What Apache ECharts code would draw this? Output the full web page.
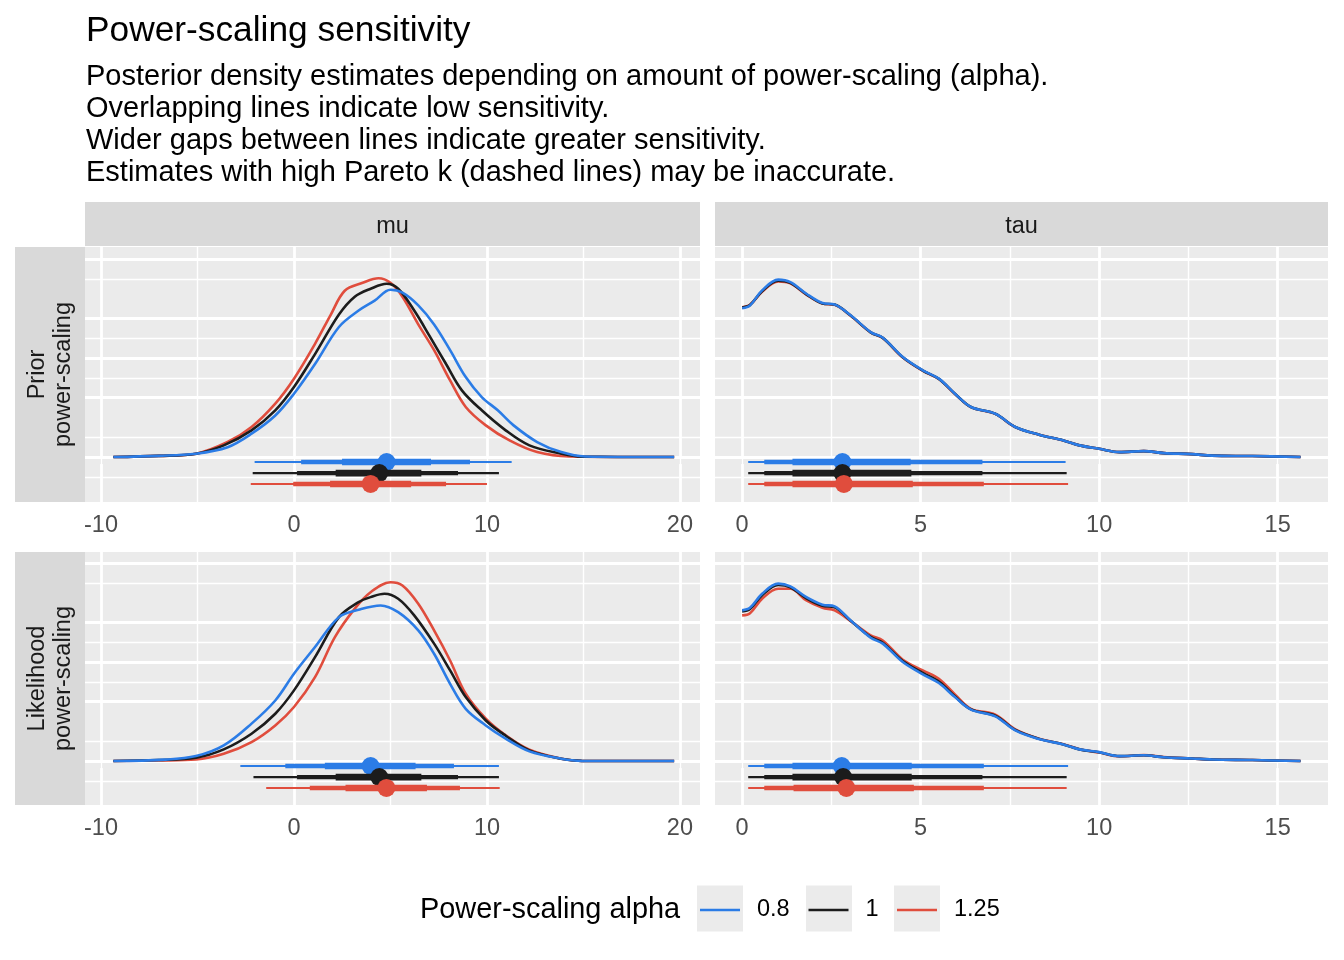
<!DOCTYPE html>
<html lang="en">
<head>
<meta charset="UTF-8">
<title>Power-scaling sensitivity</title>
<script src="https://cdn.jsdelivr.net/npm/echarts@6.0.0/dist/echarts.min.js"></script>
<style>
  html, body { margin: 0; padding: 0; background: #fff; }
  #chart { width: 1344px; height: 960px; }
</style>
</head>
<body>
<div id="chart"></div>
<script>
var alphas = ['0.8', '1', '1.25'];
var alphaColors = ['#2b7ce6', '#1c1c1c', '#e04d3d'];

var variables = ['mu', 'tau'];
var scalings = ['Prior\npower-scaling', 'Likelihood\npower-scaling'];

// x ticks / grid breaks
var muMajor = [-10, 0, 10, 20];
var muMinor = [-5, 5, 15];
var tauMajor = [0, 5, 10, 15];
var tauMinor = [2.5, 7.5, 12.5];
var densMajor = [0, 0.025, 0.05, 0.075, 0.1];
var densMinor = [-0.0125, 0.0125, 0.0375, 0.0625, 0.0875];

// density estimates, [x, density]
var priorMuDens08 = [[-9.36,0],[-7,0.0006],[-5.08,0.0017],[-3.44,0.005],[-2.2,0.0118],[-0.97,0.021],[0,0.032],[1.09,0.047],[2.33,0.0657],[3.35,0.074],[4.18,0.079],[5.0,0.0845],[5.62,0.083],[6.44,0.0766],[7.26,0.067],[8.09,0.054],[8.9,0.0404],[9.73,0.0303],[10.56,0.0236],[11.38,0.016],[12.6,0.0076],[13.85,0.0025],[15.08,0.0003],[19.7,0]];
var priorMuDens1 = [[-9.36,0],[-7,0.0006],[-5.08,0.0017],[-3.64,0.0059],[-2.2,0.0135],[-0.97,0.0236],[0,0.0354],[1.09,0.052],[2.33,0.072],[3.15,0.081],[3.97,0.085],[4.8,0.0875],[5.4,0.085],[6.23,0.074],[7.06,0.0606],[7.88,0.047],[8.7,0.0337],[9.73,0.0236],[10.97,0.0135],[12.2,0.0059],[13.85,0.0017],[14.9,0.0002],[19.7,0]];
var priorMuDens125 = [[-9.36,0],[-7,0.0006],[-5.08,0.0017],[-3.44,0.0076],[-2.2,0.0152],[-0.97,0.027],[0,0.0396],[1.09,0.0572],[1.91,0.072],[2.63,0.084],[3.56,0.088],[4.38,0.0903],[5.0,0.088],[5.62,0.081],[6.44,0.067],[7.26,0.054],[8.09,0.0387],[8.9,0.0253],[9.94,0.016],[11.17,0.0084],[12.6,0.0025],[14.26,0.0003],[19.7,0]];

var likMuDens08 = [[-9.36,0],[-6.73,0.0007],[-5.08,0.0025],[-3.64,0.0079],[-2.2,0.0189],[-0.97,0.0306],[0,0.0441],[1.09,0.0576],[2.33,0.0727],[3.35,0.0764],[4.49,0.0786],[5.4,0.0752],[6.44,0.066],[7.26,0.0542],[8.09,0.039],[8.9,0.0264],[9.94,0.018],[10.97,0.0113],[12.2,0.0049],[13.85,0.0012],[14.9,0.0001],[19.7,0]];
var likMuDens1 = [[-9.36,0],[-7,0.0005],[-5.08,0.0017],[-3.64,0.0059],[-2.2,0.0138],[-0.97,0.0239],[0,0.0357],[1.09,0.0525],[2.33,0.0727],[3.35,0.0803],[3.97,0.0828],[4.69,0.0845],[5.4,0.082],[6.23,0.0736],[7.26,0.0593],[8.09,0.0458],[8.9,0.0323],[9.94,0.0205],[10.97,0.0128],[12.2,0.0054],[13.85,0.0012],[14.9,0.0001],[19.7,0]];
var likMuDens125 = [[-9.36,0],[-7,0.0003],[-5.08,0.0008],[-3.64,0.0037],[-2.2,0.0096],[-0.97,0.018],[0,0.0273],[1.09,0.0424],[2.12,0.0626],[3.15,0.077],[3.97,0.0853],[5.0,0.0903],[5.62,0.0887],[6.44,0.0795],[7.26,0.066],[8.09,0.0508],[8.9,0.034],[9.94,0.0214],[10.97,0.013],[12.2,0.0057],[13.85,0.0012],[14.9,0.0001],[19.7,0]];

var tauX = [0,0.22,0.56,1.01,1.35,1.8,2.25,2.59,3.04,3.6,3.94,4.5,5.06,5.51,5.96,6.41,7.09,7.65,8.32,9.0,9.45,10.0,10.57,11.25,11.81,12.6,13.16,14.29,15.64];
var priorTauDens08 = [0.0752,0.0766,0.0842,0.0896,0.0884,0.0825,0.0778,0.0771,0.0716,0.0631,0.0603,0.0505,0.0438,0.0396,0.032,0.0253,0.0219,0.0152,0.0113,0.0084,0.0059,0.0042,0.0025,0.003,0.002,0.0015,0.0007,0.0005,0];
var priorTauDens1 = [0.0755,0.0768,0.0838,0.0891,0.088,0.0822,0.0776,0.077,0.0715,0.063,0.0602,0.0504,0.0437,0.0395,0.032,0.0253,0.0219,0.0152,0.0113,0.0084,0.0059,0.0042,0.0025,0.003,0.002,0.0015,0.0007,0.0005,0];
var priorTauDens125 = [0.0757,0.0769,0.0835,0.0887,0.0877,0.082,0.0775,0.0769,0.0714,0.063,0.0601,0.0503,0.0436,0.0394,0.0319,0.0252,0.0218,0.0151,0.0113,0.0084,0.0059,0.0042,0.0025,0.003,0.002,0.0015,0.0007,0.0005,0];
var likTauDens08 = [0.0761,0.0774,0.0845,0.0896,0.0882,0.0828,0.079,0.0781,0.071,0.0623,0.0593,0.05,0.0438,0.0394,0.0323,0.026,0.0226,0.0155,0.0111,0.0084,0.0059,0.0045,0.0025,0.0029,0.0019,0.0013,0.0008,0.0005,0];
var likTauDens1 = [0.0756,0.0768,0.0838,0.089,0.0878,0.0822,0.0784,0.0776,0.0709,0.0627,0.0598,0.0505,0.0445,0.0402,0.0327,0.0261,0.0229,0.0157,0.0112,0.0084,0.0059,0.0044,0.0025,0.0029,0.0019,0.0013,0.0008,0.0005,0];
var likTauDens125 = [0.0736,0.0747,0.082,0.087,0.087,0.0811,0.0774,0.0761,0.0707,0.0635,0.0609,0.0512,0.0458,0.0416,0.0337,0.0264,0.0234,0.016,0.0113,0.0085,0.006,0.0043,0.0024,0.003,0.002,0.0013,0.0008,0.0005,0];

// point intervals per alpha: [thinLo, medLo, thickLo, median, thickHi, medHi, thinHi]
var priorMuIntervals = [[-2.04,0.37,2.49,4.8,7.1,9.12,11.28],[-2.14,0.16,2.16,4.42,6.6,8.5,10.62],[-2.24,-0.04,1.87,3.97,6.07,7.88,10.0]];
var priorTauIntervals = [[0.17,0.62,1.41,2.81,4.72,6.73,9.06],[0.17,0.62,1.41,2.81,4.74,6.73,9.09],[0.17,0.62,1.41,2.85,4.78,6.77,9.13]];
var likMuIntervals = [[-2.78,-0.45,1.6,3.97,6.3,8.29,10.62],[-2.1,0.16,2.16,4.42,6.6,8.5,10.62],[-1.44,0.82,2.67,4.79,6.89,8.6,10.66]];
var likTauIntervals = [[0.17,0.62,1.41,2.79,4.75,6.77,9.13],[0.17,0.62,1.41,2.83,4.75,6.73,9.09],[0.17,0.62,1.44,2.92,4.81,6.77,9.09]];

var subtitleLines = [
    'Posterior density estimates depending on amount of power-scaling (alpha).',
    'Overlapping lines indicate low sensitivity.',
    'Wider gaps between lines indicate greater sensitivity.',
    'Estimates with high Pareto k (dashed lines) may be inaccurate.'
];

function pairs(xs, ys) {
    return xs.map(function (x, i) { return [x, ys[i]]; });
}

var FONT = 'Liberation Sans, Arial, sans-serif';

// panel layout (pixels)
var colLeft = [85, 715], colWidth = [615, 613];
var rowTop = [247, 552], rowHeight = [255, 253];
var rowYRange = [[-0.0227, 0.1061], [-0.0222, 0.1056]];
var intervalOffsets = [-0.0025, -0.0081, -0.0136];

var panels = [
    {row: 0, col: 0, dens: [priorMuDens08, priorMuDens1, priorMuDens125], ints: priorMuIntervals},
    {row: 0, col: 1, dens: [pairs(tauX, priorTauDens08), pairs(tauX, priorTauDens1), pairs(tauX, priorTauDens125)], ints: priorTauIntervals},
    {row: 1, col: 0, dens: [likMuDens08, likMuDens1, likMuDens125], ints: likMuIntervals},
    {row: 1, col: 1, dens: [pairs(tauX, likTauDens08), pairs(tauX, likTauDens1), pairs(tauX, likTauDens125)], ints: likTauIntervals}
];
var colX = [
    {min: -10.83, max: 21.04, major: muMajor, minor: muMinor},
    {min: -0.76, max: 16.41, major: tauMajor, minor: tauMinor}
];

var grids = [], xAxes = [], yAxes = [], series = [];

panels.forEach(function (p, g) {
    var cx = colX[p.col];
    grids.push({
        left: colLeft[p.col], top: rowTop[p.row],
        width: colWidth[p.col], height: rowHeight[p.row],
        show: true, backgroundColor: '#ebebeb', borderWidth: 0
    });
    xAxes.push({
        type: 'value', gridIndex: g, min: cx.min, max: cx.max,
        axisLine: {show: false},
        splitLine: {show: false},
        axisTick: {show: true, customValues: cx.major, length: 7, lineStyle: {color: '#333333', width: 2.6}},
        axisLabel: {show: true, customValues: cx.major, margin: 12, fontSize: 23.5, color: '#4d4d4d', fontFamily: FONT}
    });
    yAxes.push({
        type: 'value', gridIndex: g, min: rowYRange[p.row][0], max: rowYRange[p.row][1],
        show: false, splitLine: {show: false}
    });

    // panel grid lines, kept under the data
    var ml = [];
    cx.minor.forEach(function (v) { ml.push({xAxis: v, lineStyle: {width: 1.4}}); });
    cx.major.forEach(function (v) { ml.push({xAxis: v, lineStyle: {width: 2.8}}); });
    densMinor.forEach(function (v) { ml.push({yAxis: v, lineStyle: {width: 1.4}}); });
    densMajor.forEach(function (v) { ml.push({yAxis: v, lineStyle: {width: 2.8}}); });
    series.push({
        type: 'line', xAxisIndex: g, yAxisIndex: g, data: [], z: 1, silent: true,
        markLine: {
            z: 1, silent: true, symbol: 'none', animation: false, label: {show: false},
            lineStyle: {color: '#ffffff', type: 'solid'},
            emphasis: {disabled: true},
            data: ml
        }
    });

    // density lines (blue drawn last)
    [2, 1, 0].forEach(function (k) {
        series.push({
            name: alphas[k], type: 'line', xAxisIndex: g, yAxisIndex: g,
            data: p.dens[k], smooth: 0.35, symbol: 'none', z: 3,
            itemStyle: {color: alphaColors[k]},
            lineStyle: {color: alphaColors[k], width: 2.6}
        });
    });

    // point intervals
    p.ints.forEach(function (iv, k) {
        var yo = intervalOffsets[k];
        var segs = [[iv[0], iv[6], 2.2], [iv[1], iv[5], 4.3], [iv[2], iv[4], 6.6]];
        segs.forEach(function (s) {
            series.push({
                type: 'line', xAxisIndex: g, yAxisIndex: g, z: 4 + k * 2, silent: true,
                data: [[s[0], yo], [s[1], yo]], symbol: 'none',
                lineStyle: {color: alphaColors[k], width: s[2], cap: 'butt'}
            });
        });
        series.push({
            type: 'scatter', xAxisIndex: g, yAxisIndex: g, z: 5 + k * 2, silent: true,
            data: [[iv[3], yo]], symbolSize: 18,
            itemStyle: {color: alphaColors[k], opacity: 1}
        });
    });
});

var legendLeft = [700, 808.5, 897];
var legends = alphas.map(function (a, i) {
    return {
        data: [a], left: legendLeft[i], top: 898, padding: 0,
        icon: 'rect', itemWidth: 40, itemHeight: 2.5, selectedMode: false,
        textStyle: {fontSize: 23.5, color: '#000', fontFamily: FONT, padding: [0, 0, 0, 12]}
    };
});

var graphics = [];
// column strips
variables.forEach(function (v, c) {
    graphics.push({type: 'rect', silent: true, shape: {x: colLeft[c], y: 202, width: colWidth[c], height: 44}, style: {fill: '#d9d9d9'}});
    graphics.push({type: 'text', silent: true, x: colLeft[c] + colWidth[c] / 2, y: 227,
        style: {text: v, fontSize: 23.5, fontFamily: FONT, fill: '#1a1a1a', align: 'center', verticalAlign: 'middle'}});
});
// row strips
scalings.forEach(function (s, r) {
    graphics.push({type: 'rect', silent: true, shape: {x: 15, y: rowTop[r], width: 70, height: rowHeight[r]}, style: {fill: '#d9d9d9'}});
    graphics.push({type: 'text', silent: true, x: 51, y: rowTop[r] + rowHeight[r] / 2, rotation: Math.PI / 2,
        style: {text: s, fontSize: 23.5, lineHeight: 26, fontFamily: FONT, fill: '#1a1a1a', align: 'center', verticalAlign: 'middle'}});
});
// legend key backgrounds and title
[697, 806, 894].forEach(function (x) {
    graphics.push({type: 'rect', silent: true, z: -1, shape: {x: x, y: 885.5, width: 46, height: 46}, style: {fill: '#ebebeb'}});
});
graphics.push({type: 'text', silent: true, x: 420, y: 910,
    style: {text: 'Power-scaling alpha', fontSize: 28.9, fontFamily: FONT, fill: '#000', align: 'left', verticalAlign: 'middle'}});

var chart = echarts.init(document.getElementById('chart'));
chart.setOption({
    animation: false,
    backgroundColor: '#ffffff',
    textStyle: {fontFamily: FONT},
    title: [
        {text: 'Power-scaling sensitivity', left: 86, top: 14, padding: 0,
            textStyle: {fontSize: 35.3, fontWeight: 'normal', color: '#000', fontFamily: FONT}},
        {text: subtitleLines.join('\n'), left: 86, top: 61, padding: 0,
            textStyle: {fontSize: 29, lineHeight: 32, fontWeight: 'normal', color: '#000', fontFamily: FONT}}
    ],
    legend: legends,
    grid: grids,
    xAxis: xAxes,
    yAxis: yAxes,
    graphic: graphics,
    series: series
});
</script>
</body>
</html>
